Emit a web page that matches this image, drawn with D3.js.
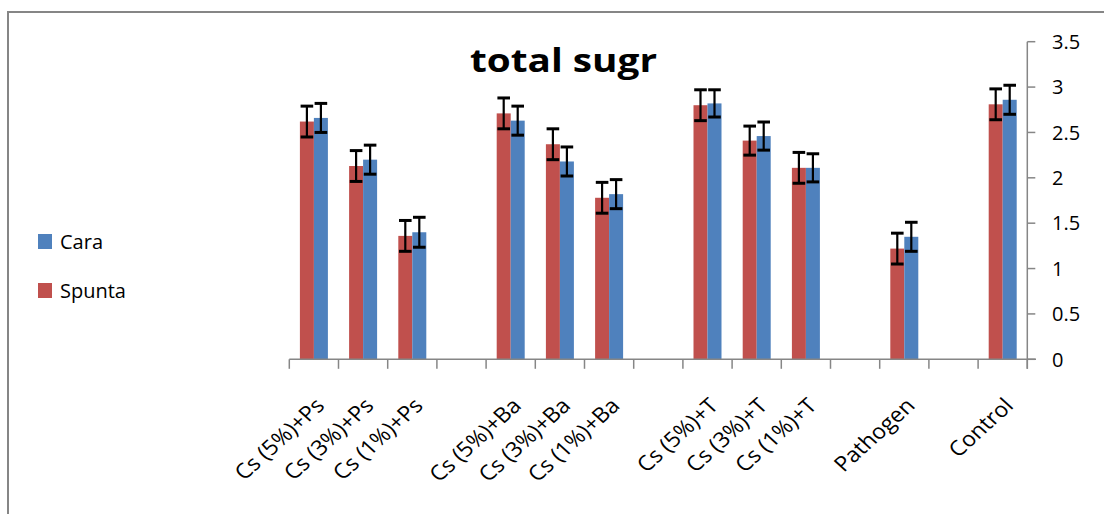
<!DOCTYPE html>
<html>
<head>
<meta charset="utf-8">
<script src="https://cdn.jsdelivr.net/npm/d3@7"></script>
<style>
  body { margin: 0; background: #fff; }
  text { font-family: "Open Sans", sans-serif; fill: #000; }
</style>
</head>
<body>
<div id="chart"></div>
<script>
// chart values (null = empty slot)
const categories = ["Cs (5%)+Ps", "Cs (3%)+Ps", "Cs (1%)+Ps", "",
  "Cs (5%)+Ba", "Cs (3%)+Ba", "Cs (1%)+Ba", "",
  "Cs (5%)+T", "Cs (3%)+T", "Cs (1%)+T", "",
  "Pathogen", "", "Control"];
const spunta = [2.62, 2.13, 1.36, null, 2.71, 2.37, 1.78, null, 2.80, 2.41, 2.11, null, 1.22, null, 2.81];
const cara = [2.66, 2.20, 1.40, null, 2.63, 2.18, 1.82, null, 2.82, 2.46, 2.11, null, 1.35, null, 2.86];
const spuntaErr = [0.17, 0.17, 0.17, null, 0.17, 0.17, 0.17, null, 0.17, 0.16, 0.17, null, 0.17, null, 0.17];
const caraErr = [0.16, 0.16, 0.165, null, 0.16, 0.16, 0.16, null, 0.15, 0.155, 0.155, null, 0.16, null, 0.16];
const seriesNames = ["Spunta", "Cara"];
const legendOrder = ["Cara", "Spunta"];
const yTicks = [0, 0.5, 1, 1.5, 2, 2.5, 3, 3.5];

const colors = { Spunta: "#C0504D", Cara: "#4F81BD" };
const W = 1104, H = 514;
const axisGrey = "#868686";

const svg = d3.select("#chart").append("svg")
  .attr("width", W).attr("height", H);

// chart border (top and left edges visible)
svg.append("path")
  .attr("d", `M8,${H} L8,12 L${W},12`)
  .attr("fill", "none")
  .attr("stroke", axisGrey)
  .attr("stroke-width", 2);

// scales
const x = d3.scaleBand()
  .domain(d3.range(categories.length))
  .range([289.3, 1027.3])
  .padding(0);

const bw = x.bandwidth();
const xSub = d3.scaleBand()
  .domain(seriesNames)
  .range([bw / 2 - 14, bw / 2 + 14]);

const y = d3.scaleLinear()
  .domain([0, 3.5])
  .range([359.3, 41.7]);

// build rows
const rows = [];
categories.forEach((c, i) => {
  if (spunta[i] != null) rows.push({ i, s: "Spunta", v: spunta[i], e: spuntaErr[i] });
  if (cara[i] != null) rows.push({ i, s: "Cara", v: cara[i], e: caraErr[i] });
});

// bars
svg.append("g").selectAll("rect")
  .data(rows)
  .enter()
  .append("rect")
  .attr("x", d => x(d.i) + xSub(d.s))
  .attr("y", d => y(d.v))
  .attr("width", xSub.bandwidth())
  .attr("height", d => y(0) - y(d.v))
  .attr("fill", d => colors[d.s]);

// error bars
const eb = svg.append("g").selectAll("g")
  .data(rows)
  .enter()
  .append("g")
  .attr("transform", d => `translate(${x(d.i) + xSub(d.s) + xSub.bandwidth() / 2},0)`);

eb.append("line")
  .attr("x1", 0).attr("x2", 0)
  .attr("y1", d => y(d.v + d.e))
  .attr("y2", d => y(d.v - d.e))
  .attr("stroke", "#000").attr("stroke-width", 2.2);

eb.append("line")
  .attr("x1", -6.3).attr("x2", 6.3)
  .attr("y1", d => y(d.v + d.e)).attr("y2", d => y(d.v + d.e))
  .attr("stroke", "#000").attr("stroke-width", 3);

eb.append("line")
  .attr("x1", -6.3).attr("x2", 6.3)
  .attr("y1", d => y(d.v - d.e)).attr("y2", d => y(d.v - d.e))
  .attr("stroke", "#000").attr("stroke-width", 3);

// x axis line + ticks at slot boundaries
const x0 = x.range()[0];
svg.append("line")
  .attr("x1", x0).attr("x2", 1036)
  .attr("y1", y(0)).attr("y2", y(0))
  .attr("stroke", axisGrey).attr("stroke-width", 1.5);

svg.append("g").selectAll("line")
  .data(d3.range(categories.length + 1))
  .enter()
  .append("line")
  .attr("x1", d => x0 + d * x.step())
  .attr("x2", d => x0 + d * x.step())
  .attr("y1", y(0)).attr("y2", y(0) + 9.5)
  .attr("stroke", axisGrey).attr("stroke-width", 1.5);

// rotated category labels
svg.append("g").selectAll("text")
  .data(categories.map((c, i) => ({ c, i })).filter(d => d.c !== ""))
  .enter()
  .append("text")
  .attr("transform", d => `translate(${x(d.i) + bw / 2 + 12},407) scale(1.1,1) rotate(-45)`)
  .attr("text-anchor", "end")
  .attr("font-size", 21)
  .text(d => d.c);

// y axis on the right
const yAxisX = 1027.3;
svg.append("line")
  .attr("x1", yAxisX).attr("x2", yAxisX)
  .attr("y1", y(3.5)).attr("y2", y(0) + 9.5)
  .attr("stroke", axisGrey).attr("stroke-width", 1.5);

const yt = svg.append("g").selectAll("g")
  .data(yTicks)
  .enter()
  .append("g")
  .attr("transform", d => `translate(0,${y(d)})`);

yt.append("line")
  .attr("x1", yAxisX).attr("x2", yAxisX + 8)
  .attr("stroke", axisGrey).attr("stroke-width", 1.5);

yt.append("text")
  .attr("x", 1052)
  .attr("dy", "0.36em")
  .attr("font-size", 20)
  .text(d => String(d));

// title
svg.append("text")
  .attr("x", 563.5)
  .attr("y", 72)
  .attr("text-anchor", "middle")
  .attr("font-size", 32)
  .attr("font-weight", "bold")
  .attr("textLength", 187)
  .attr("lengthAdjust", "spacingAndGlyphs")
  .text("total sugr");

// legend
const lg = svg.append("g").selectAll("g")
  .data(legendOrder)
  .enter()
  .append("g")
  .attr("transform", (d, i) => `translate(38,${234 + i * 49})`);

lg.append("rect")
  .attr("width", 14).attr("height", 15)
  .attr("fill", d => colors[d]);

lg.append("text")
  .attr("x", 22)
  .attr("y", 15)
  .attr("font-size", 20)
  .text(d => d);
</script>
</body>
</html>
